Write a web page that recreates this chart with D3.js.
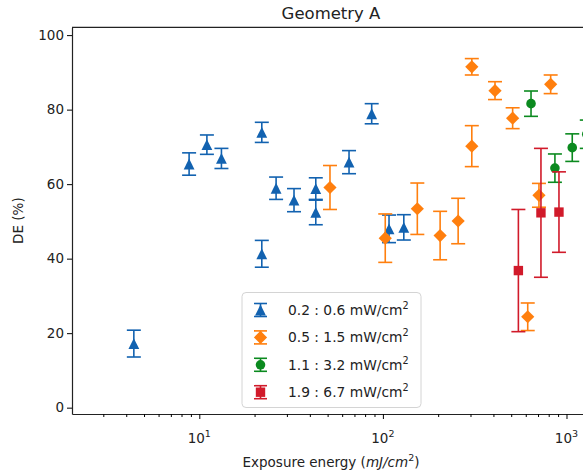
<!DOCTYPE html>
<html>
<head>
<meta charset="utf-8">
<script src="https://cdn.jsdelivr.net/npm/d3@7/dist/d3.min.js"></script>
<style>
  body { margin: 0; background: #fff; }
  svg { display: block; font-family: "DejaVu Sans", sans-serif; }
</style>
</head>
<body>
<div id="chart"></div>
<script>
// series labels (irradiance ranges)
const seriesLabels = ["0.2 : 0.6", "0.5 : 1.5", "1.1 : 3.2", "1.9 : 6.7"];

// 0.2 : 0.6 mW/cm2
const energyA = [4.4, 8.8, 11.0, 13.2, 21.9, 21.9, 26.2, 32.8, 43.1, 43.1, 65.4, 86.9, 108, 130];
const deA     = [17.2, 65.4, 70.6, 66.9, 73.9, 41.3, 58.9, 55.7, 58.8, 52.4, 65.9, 78.9, 48.0, 48.4];
const errA    = [3.6, 3.0, 2.6, 2.7, 2.7, 3.6, 3.0, 3.1, 2.9, 3.3, 3.1, 2.7, 3.7, 3.4];

// 0.5 : 1.5 mW/cm2
const energyB = [51.5, 103, 154, 205, 257, 305, 305, 408, 509, 615, 708, 820];
const deB     = [59.1, 45.5, 53.4, 46.2, 50.1, 91.5, 70.2, 85.1, 77.7, 24.4, 57.0, 86.8];
const errB    = [5.9, 6.5, 6.9, 6.5, 6.1, 2.2, 5.5, 2.4, 2.8, 3.7, 3.2, 2.5];

// 1.1 : 3.2 mW/cm2
const energyC = [641, 865, 1075, 1290];
const deC     = [81.6, 64.3, 69.8, 73.4];
const errC    = [3.4, 3.8, 3.7, 3.8];

// 1.9 : 6.7 mW/cm2
const energyD = [547, 726, 910];
const deD     = [36.8, 52.3, 52.5];
const errD    = [16.4, 17.3, 10.8];

const yTicks = [0, 20, 40, 60, 80, 100];
const xMajorTicks = [10, 100, 1000];

(function () {
  const W = 583, H = 476;
  const left = 72, right = 590, top = 27.3, bottom = 414;

  const colors = ["#1262b0", "#ff7f0e", "#0b8a1f", "#d11a2a"];
  const shapes = ["tri", "diamond", "circle", "square"];

  const series = [
    { energy: energyA, de: deA, err: errA },
    { energy: energyB, de: deB, err: errB },
    { energy: energyC, de: deC, err: errC },
    { energy: energyD, de: deD, err: errD }
  ].map((s, i) => ({
    label: seriesLabels[i],
    color: colors[i],
    shape: shapes[i],
    points: s.energy.map((e, j) => ({ x: e, y: s.de[j], e: s.err[j] }))
  }));

  const svg = d3.select("#chart").append("svg")
    .attr("width", W).attr("height", H);

  const x = d3.scaleLog().domain([2.026, 1343]).range([left, right]);
  const y = d3.scaleLinear().domain([-1.7, 102.1]).range([bottom, top]);

  // marker shapes, centred on 0,0
  function markerPath(shape) {
    if (shape === "tri") { const h = 5.4; return `M0,${-h}L${h},${h}L${-h},${h}Z`; }
    if (shape === "diamond") { const h = 6.6; return `M0,${-h}L${h},0L0,${h}L${-h},0Z`; }
    if (shape === "square") { const h = 4.7; return `M${-h},${-h}H${h}V${h}H${-h}Z`; }
    return d3.symbol(d3.symbolCircle, Math.PI * 4.8 * 4.8)();
  }

  const cap = 7;
  const plot = svg.append("g");

  series.forEach(s => {
    const g = plot.append("g");
    const pts = g.selectAll("g.pt").data(s.points).enter().append("g").attr("class", "pt");
    pts.append("line")
      .attr("x1", d => x(d.x)).attr("x2", d => x(d.x))
      .attr("y1", d => y(d.y - d.e)).attr("y2", d => y(d.y + d.e))
      .attr("stroke", s.color).attr("stroke-width", 1.6);
    pts.append("line")
      .attr("x1", d => x(d.x) - cap).attr("x2", d => x(d.x) + cap)
      .attr("y1", d => y(d.y + d.e)).attr("y2", d => y(d.y + d.e))
      .attr("stroke", s.color).attr("stroke-width", 1.6);
    pts.append("line")
      .attr("x1", d => x(d.x) - cap).attr("x2", d => x(d.x) + cap)
      .attr("y1", d => y(d.y - d.e)).attr("y2", d => y(d.y - d.e))
      .attr("stroke", s.color).attr("stroke-width", 1.6);
    pts.append("path")
      .attr("d", markerPath(s.shape))
      .attr("transform", d => `translate(${x(d.x)},${y(d.y)})`)
      .attr("fill", s.color);
  });

  // axes
  const xAxis = svg.append("g").attr("transform", `translate(0,${bottom})`)
    .call(d3.axisBottom(x).tickValues(xMajorTicks).tickFormat("").tickSize(5).tickSizeOuter(0));
  const minor = [];
  [1, 10, 100, 1000].forEach(dec => {
    for (let k = 2; k <= 9; k++) {
      const v = dec * k;
      if (v > x.domain()[0] && v < x.domain()[1]) minor.push(v);
    }
  });
  svg.append("g").attr("transform", `translate(0,${bottom})`)
    .call(d3.axisBottom(x).tickValues(minor).tickFormat("").tickSize(3).tickSizeOuter(0))
    .select(".domain").remove();
  xAxis.select(".domain").attr("stroke", "#222").attr("stroke-width", 1.2);

  const xl = svg.append("g");
  xMajorTicks.forEach(v => {
    const t = xl.append("text")
      .attr("x", x(v)).attr("y", 443)
      .attr("text-anchor", "middle")
      .attr("font-size", 13.5).attr("fill", "#222");
    t.append("tspan").text("10");
    t.append("tspan").attr("dy", -6).attr("font-size", 9.5).text(Math.round(Math.log10(v)));
  });

  const yAxis = svg.append("g").attr("transform", `translate(${left},0)`)
    .call(d3.axisLeft(y).tickValues(yTicks).tickSize(5).tickSizeOuter(0).tickPadding(3));
  yAxis.selectAll("text").attr("font-size", 13.5).attr("fill", "#222")
    .attr("font-family", "DejaVu Sans");
  yAxis.select(".domain").attr("stroke", "#222").attr("stroke-width", 1.2);

  // top spine
  svg.append("line")
    .attr("x1", left).attr("x2", right).attr("y1", top).attr("y2", top)
    .attr("stroke", "#222").attr("stroke-width", 1.2);

  // title and labels
  svg.append("text")
    .attr("x", (left + right) / 2).attr("y", 19)
    .attr("text-anchor", "middle").attr("font-size", 16.5).attr("fill", "#222")
    .text("Geometry A");

  const xt = svg.append("text")
    .attr("x", (left + right) / 2).attr("y", 467)
    .attr("text-anchor", "middle").attr("font-size", 13.5).attr("fill", "#222");
  xt.append("tspan").text("Exposure energy (");
  xt.append("tspan").attr("font-style", "italic").text("mJ/cm");
  xt.append("tspan").attr("dy", -6).attr("font-size", 9.5).text("2");
  xt.append("tspan").attr("dy", 6).text(")");

  svg.append("text")
    .attr("transform", `translate(23,${(top + bottom) / 2}) rotate(-90)`)
    .attr("text-anchor", "middle").attr("font-size", 13.5).attr("fill", "#222")
    .text("DE (%)");

  // legend
  const lg = svg.append("g");
  lg.append("rect")
    .attr("x", 242).attr("y", 292.5).attr("width", 179).attr("height", 115)
    .attr("rx", 4).attr("fill", "#fff").attr("fill-opacity", 0.8)
    .attr("stroke", "#d4d4d4");
  series.forEach((s, i) => {
    const cy = 310 + i * 27.4, cx = 260.5;
    const row = lg.append("g");
    row.append("line").attr("x1", cx).attr("x2", cx).attr("y1", cy - 6.5).attr("y2", cy + 6.5)
      .attr("stroke", s.color).attr("stroke-width", 1.6);
    [-6.5, 6.5].forEach(dy => row.append("line")
      .attr("x1", cx - 6.5).attr("x2", cx + 6.5).attr("y1", cy + dy).attr("y2", cy + dy)
      .attr("stroke", s.color).attr("stroke-width", 1.6));
    row.append("path").attr("d", markerPath(s.shape))
      .attr("transform", `translate(${cx},${cy})`).attr("fill", s.color);
    const t = row.append("text").attr("x", 288).attr("y", cy + 5)
      .attr("font-size", 13.8).attr("fill", "#222");
    t.append("tspan").text(`${s.label} mW/cm`);
    t.append("tspan").attr("dy", -6).attr("font-size", 9.7).text("2");
  });
})();
</script>
</body>
</html>
